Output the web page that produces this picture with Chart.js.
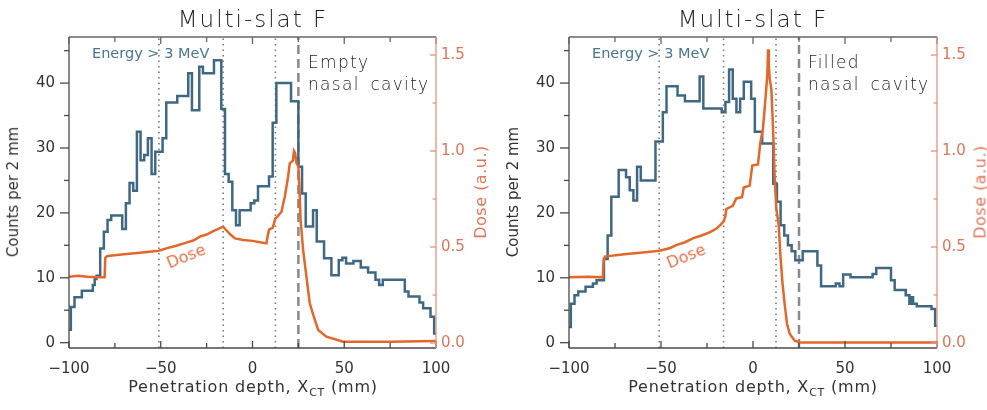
<!DOCTYPE html>
<html lang="en">
<head>
  <meta charset="UTF-8" />
  <title>Multi-slat F</title>
  <script src="https://cdn.jsdelivr.net/npm/chart.js@4"></script>
  <style>
    body {
      margin: 0;
      background: #fff;
    }

    #wrap {
      position: relative;
      width: 987px;
      height: 410px;
      overflow: hidden;
      font-family: 'DejaVu Sans', sans-serif;
      color: #333;
    }

    canvas {
      position: absolute;
      top: 0;
    }

    .t {
      position: absolute;
      white-space: nowrap;
      transform: translate(-50%, -50%);
    }

    .l {
      position: absolute;
      white-space: nowrap;
      transform: translate(0, -50%);
    }

    .title { font-size: 23px; letter-spacing: 2px; font-weight: 300; color: #1e1e1e; }
    .ylab { font-size: 15px; transform: translate(-50%, -50%) rotate(-90deg); }
    .dlab { font-size: 16px; letter-spacing: 0.5px; color: #e0755a; transform: translate(-50%, -50%) rotate(-90deg); }
    .xlab { font-size: 16px; letter-spacing: 0.8px; }
    .xlab sub { font-size: 11px; }
    .energy { font-size: 14.5px; color: #4a7590; }
    .cavity { font-size: 17px; letter-spacing: 1.3px; word-spacing: 4px; font-weight: 300; color: #1e1e1e; }
    .dose { font-size: 16px; color: #e0704a; transform: translate(-50%, -50%) rotate(-22deg); }
  </style>
</head>
<body>

<div id="wrap">
  <canvas id="empty" width="493" height="410" style="left:0"></canvas>
  <canvas id="filled" width="487" height="410" style="left:500px"></canvas>
</div>

<script>
  // axis ticks
  const xTicks = [-100, -50, 0, 50, 100];
  const xMinorTicks = [-75, -25, 25, 75];
  const countTicks = [0, 10, 20, 30, 40];
  const countMinorTicks = [5, 15, 25, 35, 45];
  const doseTicks = [0, 0.5, 1.0, 1.5];
  const doseMinorTicks = [0.25, 0.75, 1.25];

  // dotted marker lines and the dashed cavity edge (mm)
  const markerLines = [-51, -16, 12.5];
  const cavityEdge = [25];

  // empty nasal cavity: histogram steps (start of each step) and counts
  const emptyStepX = [-100, -99, -97, -93, -87, -86, -85, -83, -81, -79,
    -77, -71, -69, -67, -65, -63, -61, -59, -57, -55,
    -53, -49, -47, -41, -35, -33, -29, -27, -21, -17,
    -15, -13, -11, -9, -7, -1, 1, 3, 9, 11,
    13, 21, 25, 27, 29, 33, 35, 39, 43, 47,
    49, 51, 55, 59, 63, 67, 69, 71, 83, 85,
    91, 93, 97, 99];
  const emptyCounts = [2.0, 5.5, 7.0, 8.0, 8.9, 9.8, 10.3, 14.5, 17.1, 18.9,
    19.6, 17.5, 21.5, 24.6, 23.4, 32.5, 28.1, 28.9, 31.5, 26.0,
    29.4, 31.5, 37.0, 38.0, 41.5, 35.8, 42.5, 41.5, 43.5, 36.0,
    26.0, 24.8, 20.4, 18.1, 20.4, 21.5, 21.9, 24.1, 25.6, 33.9,
    40.0, 37.2, 27.1, 23.0, 17.9, 20.4, 15.6, 13.0, 10.4, 12.7,
    13.1, 12.2, 12.6, 11.6, 10.8, 9.7, 8.9, 9.7, 7.9, 7.1,
    6.2, 5.3, 4.0, 1.4];
  const emptyDoseX = [-100, -95, -90, -85, -80.6, -80.2, -79, -70, -60, -51,
    -47, -42, -36, -32, -28.7, -25, -21.4, -18, -16, -14.5,
    -12, -9.6, -5, 0, 4, 7.6, 8.3, 9.1, 11, 12.5,
    13.1, 15.8, 16.6, 17.6, 19.4, 20.3, 22, 22.6, 23.2, 24,
    25, 25.6, 26.2, 27.6, 29.4, 31.2, 33.4, 35.8, 40.3, 49.4,
    75, 100];
  const emptyDose = [0.345, 0.35, 0.345, 0.342, 0.342, 0.445, 0.453, 0.462, 0.472, 0.481,
    0.493, 0.505, 0.523, 0.535, 0.554, 0.565, 0.583, 0.597, 0.606, 0.59,
    0.565, 0.545, 0.537, 0.532, 0.525, 0.519, 0.56, 0.592, 0.6, 0.65,
    0.654, 0.684, 0.72, 0.762, 0.866, 0.936, 0.95, 1.0, 0.99, 0.936,
    0.92, 0.8, 0.64, 0.484, 0.345, 0.207, 0.137, 0.068, 0.033, 0.007,
    0.007, 0.01];

  // filled nasal cavity
  const filledStepX = [-100, -99, -97, -95, -91, -87, -85, -81, -79, -77,
    -73, -69, -67, -65, -63, -61, -53, -49, -47, -41,
    -37, -29, -27, -17, -15, -13, -11, -9, -7, -5,
    -1, 1, 5, 11, 13, 15, 17, 19, 21, 23,
    27, 35, 37, 45, 47, 49, 53, 65, 67, 75,
    77, 83, 85, 86, 87, 89, 97, 99];
  const filledCounts = [2.4, 6.0, 7.3, 7.9, 8.6, 9.1, 9.6, 12.9, 16.5, 22.5,
    26.6, 25.5, 23.5, 21.9, 27.1, 25.0, 31.0, 35.5, 39.5, 38.1,
    37.2, 41.0, 36.1, 35.5, 37.1, 42.1, 37.6, 35.5, 37.6, 40.2,
    37.6, 32.5, 30.7, 24.5, 21.7, 18.1, 16.5, 15.0, 14.1, 12.7,
    14.1, 11.9, 8.7, 9.1, 8.7, 10.5, 10.1, 10.6, 11.5, 9.6,
    8.1, 7.3, 6.0, 7.0, 6.0, 5.6, 5.2, 2.6];
  const filledDoseX = [-100, -90, -81.6, -81.2, -80.5, -70, -60, -50.8, -45, -41.7,
    -37, -32.7, -28, -23.6, -20, -18.1, -16, -15, -14.5, -11,
    -9.1, -6, -5, -1.8, -0.4, 2.7, 4, 5.4, 6.9, 7.8,
    8.2, 8.6, 9.1, 10, 10.9, 11.8, 12.7, 14, 14.9, 16,
    17.2, 18.5, 20, 22.7, 25.4, 100];
  const filledDose = [0.342, 0.345, 0.342, 0.43, 0.45, 0.462, 0.472, 0.481, 0.495, 0.51,
    0.525, 0.545, 0.56, 0.576, 0.595, 0.611, 0.632, 0.66, 0.698, 0.715,
    0.753, 0.759, 0.81, 0.82, 0.924, 0.93, 1.045, 1.115, 1.288, 1.4,
    1.53, 1.45, 1.375, 1.32, 1.115, 0.854, 0.698, 0.611, 0.455, 0.316,
    0.203, 0.099, 0.047, 0.012, 0.003, 0.003];

  const BLUE = '#3f6882';
  const ORANGE = '#e4672a';
  const ORANGE_TXT = '#e0755a';
  const ORANGE_AXIS = '#e8937c';
  const AXIS = '#4a4a4a';
  const COUNT_MIN = -0.82, COUNT_MAX = 47.1;
  const DOSE_MIN = -0.026, DOSE_MAX = 1.594;

  Chart.defaults.font.family = "'DejaVu Sans', sans-serif";

  const minus = v => v < 0 ? '\u2212' + Math.abs(v) : String(v);

  // box and tick marks: left ticks point out, the others point in
  const frame = {
    id: 'frame',
    afterDraw(chart) {
      const { ctx, chartArea: a, scales } = chart;
      const seg = (x1, y1, x2, y2) => { ctx.beginPath(); ctx.moveTo(x1, y1); ctx.lineTo(x2, y2); ctx.stroke(); };
      ctx.save();
      ctx.lineWidth = 1.3;
      ctx.strokeStyle = AXIS;
      seg(a.left, a.bottom, a.right, a.bottom);
      ctx.strokeStyle = '#666';
      seg(a.left, a.top, a.right, a.top);
      ctx.strokeStyle = AXIS;
      seg(a.left, a.top, a.left, a.bottom);

      xTicks.concat(xMinorTicks).forEach(v => {
        const px = scales.x.getPixelForValue(v);
        const len = xTicks.includes(v) ? 7 : 5;
        ctx.strokeStyle = AXIS;
        seg(px, a.bottom, px, a.bottom - len);
        ctx.strokeStyle = '#666';
        seg(px, a.top, px, a.top + len);
      });
      ctx.strokeStyle = AXIS;
      countTicks.concat(countMinorTicks).forEach(v => {
        const py = scales.y.getPixelForValue(v);
        seg(a.left, py, a.left - (countTicks.includes(v) ? 9 : 5), py);
      });
      ctx.strokeStyle = ORANGE_AXIS;
      seg(a.right, a.top, a.right, a.bottom);
      doseTicks.concat(doseMinorTicks).forEach(v => {
        const py = scales.yDose.getPixelForValue(v);
        seg(a.right, py, a.right - (doseTicks.includes(v) ? 6 : 3.5), py);
      });
      ctx.restore();
    }
  };

  function vline(x, dash, width, color) {
    return {
      data: [{ x: x, y: COUNT_MIN }, { x: x, y: COUNT_MAX }],
      yAxisID: 'y',
      borderColor: color,
      borderWidth: width,
      borderDash: dash,
      pointRadius: 0
    };
  }

  function makePanel(id, rightWidth, stepX, counts, doseX, dose) {
    const countPts = stepX.map((x, i) => ({ x: x, y: counts[i] }));
    countPts.push({ x: 100, y: counts[counts.length - 1] });
    const dosePts = doseX.map((x, i) => ({ x: x, y: dose[i] }));

    new Chart(document.getElementById(id), {
      type: 'line',
      data: {
        datasets: [
          { data: dosePts, yAxisID: 'yDose', borderColor: ORANGE, borderWidth: 2.5, pointRadius: 0, tension: 0 },
          { data: countPts, yAxisID: 'y', stepped: true, borderColor: BLUE, borderWidth: 2.5, pointRadius: 0 },
          ...markerLines.map(x => vline(x, [1.5, 4], 1.6, '#7a7a7a')),
          ...cavityEdge.map(x => vline(x, [9, 5], 2.5, '#8a8a8a'))
        ]
      },
      options: {
        responsive: false,
        animation: false,
        devicePixelRatio: 1,
        layout: { padding: { top: 37, left: 0, right: 0, bottom: 0 } },
        plugins: {
          legend: { display: false },
          tooltip: { enabled: false }
        },
        scales: {
          x: {
            type: 'linear',
            min: -100,
            max: 100,
            grid: { display: false, drawTicks: false },
            border: { display: false },
            afterBuildTicks: s => { s.ticks = xTicks.map(v => ({ value: v })); },
            afterFit: s => { s.height = 62; },
            ticks: { padding: 12, color: '#333', font: { size: 15 }, maxRotation: 0, autoSkip: false, callback: v => minus(v) }
          },
          y: {
            position: 'left',
            min: COUNT_MIN,
            max: COUNT_MAX,
            grid: { display: false, drawTicks: false },
            border: { display: false },
            afterBuildTicks: s => { s.ticks = countTicks.map(v => ({ value: v })); },
            afterFit: s => { s.width = 69; },
            ticks: { padding: 14, color: '#333', font: { size: 15 }, autoSkip: false, callback: v => String(v) }
          },
          yDose: {
            position: 'right',
            min: DOSE_MIN,
            max: DOSE_MAX,
            grid: { display: false, drawTicks: false },
            border: { display: false },
            afterBuildTicks: s => { s.ticks = doseTicks.map(v => ({ value: v })); },
            afterFit: s => { s.width = rightWidth; },
            ticks: { padding: 5, color: ORANGE_TXT, font: { size: 15 }, autoSkip: false, callback: v => v.toFixed(1) }
          }
        }
      },
      plugins: [frame]
    });
  }

  makePanel('empty', 57, emptyStepX, emptyCounts, emptyDoseX, emptyDose);
  makePanel('filled', 50, filledStepX, filledCounts, filledDoseX, filledDose);

  // text overlays, dx shifts the second panel
  const wrap = document.getElementById('wrap');
  function label(html, cls, x, y) {
    const d = document.createElement('div');
    d.className = cls;
    d.style.left = x + 'px';
    d.style.top = y + 'px';
    d.innerHTML = html;
    wrap.appendChild(d);
  }

  [[0, 'Empty'], [500, 'Filled']].forEach(([dx, word]) => {
    label('Multi-slat F', 't title', 253 + dx, 19);
    label('Counts per 2 mm', 't ylab', 13 + dx, 192);
    label('Dose (a.u.)', 't dlab', 480 + dx, 192);
    label('Penetration depth, X<sub>CT</sub> (mm)', 't xlab', 253 + dx, 388);
    label('Energy &gt; 3 MeV', 'l energy', 92 + dx, 53);
    label(word, 'l cavity', 308 + dx, 62);
    label('nasal cavity', 'l cavity', 308 + dx, 84);
    label('Dose', 't dose', 186 + dx, 256);
  });
</script>

</body>
</html>
